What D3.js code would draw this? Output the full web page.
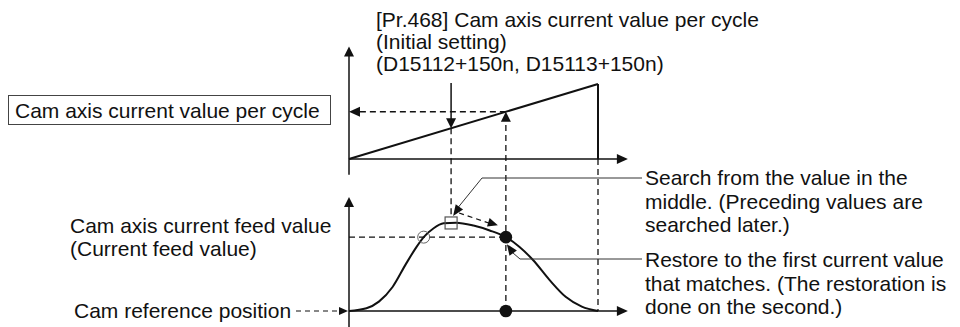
<!DOCTYPE html>
<html>
<head>
<meta charset="utf-8">
<script src="https://cdn.jsdelivr.net/npm/d3@7"></script>
<style>
  html, body { margin: 0; padding: 0; background: #fff; }
  svg { display: block; }
  text { font-family: "Liberation Sans", Arial, sans-serif; font-size: 21px; fill: #111; }
</style>
</head>
<body>
<svg id="chart" width="960" height="327"></svg>
<script>
// ---------------- data ----------------
// Upper graph: cam axis current value per cycle (sawtooth over one cycle, % of cycle)
const cycleX = [0, 100];
const cycleVals = [0, 100];
// Lower graph: cam axis current feed value (cam curve, % of stroke) vs cycle position
const feedX = [0, 7, 12, 17.5, 23, 27, 30, 34, 38, 43, 50, 56.5, 63, 68.5, 74, 80.5, 87, 93.5, 100];
const feedY = [0, 3, 10.5, 27, 53.5, 71.5, 83, 93, 98.5, 99.2, 96, 90.5, 83, 72, 57, 35, 16, 5, 0];
// Key positions along the cycle
const initialSettingX = [41];   // [Pr.468] initial setting (search start)
const firstMatchX = [30];       // preceding match (searched later)
const restoredX = [63];         // restored value (first match found)
// Texts
const topTitle = ["[Pr.468] Cam axis current value per cycle", "(Initial setting)", "(D15112+150n, D15113+150n)"];
const boxLabel = ["Cam axis current value per cycle"];
const feedLabel = ["Cam axis current feed value", "(Current feed value)"];
const refLabel = ["Cam reference position"];
const searchNote = ["Search from the value in the", "middle. (Preceding values are", "searched later.)"];
const restoreNote = ["Restore to the first current value", "that matches. (The restoration is", "done on the second.)"];

// ---------------- scales ----------------
const x = d3.scaleLinear().domain([0, 100]).range([349, 598]);
const yTop = d3.scaleLinear().domain([0, 100]).range([159, 84]);
const yBot = d3.scaleLinear().domain([0, 100]).range([311, 222]);

const svg = d3.select("#chart");
const g = svg.append("g");

function arrowHead(tipX, tipY, angleDeg, len = 10, half = 4.5) {
  const a = angleDeg * Math.PI / 180;
  const bx = tipX - len * Math.cos(a), by = tipY - len * Math.sin(a);
  const px = -Math.sin(a) * half, py = Math.cos(a) * half;
  g.append("path")
    .attr("d", `M${tipX},${tipY}L${bx + px},${by + py}L${bx - px},${by - py}Z`)
    .attr("fill", "#111");
}
function line(x1, y1, x2, y2, opts = {}) {
  return g.append("line")
    .attr("x1", x1).attr("y1", y1).attr("x2", x2).attr("y2", y2)
    .attr("stroke", opts.color || "#111")
    .attr("stroke-width", opts.w || 1.5)
    .attr("stroke-dasharray", opts.dash || null);
}
const DASH = "6,4";

const curveFn = (xv) => {
  const i = d3.bisectLeft(feedX, xv);
  if (i <= 0) return feedY[0];
  const t = (xv - feedX[i - 1]) / (feedX[i] - feedX[i - 1]);
  return feedY[i - 1] + t * (feedY[i] - feedY[i - 1]);
};
const rx = restoredX[0], ix = initialSettingX[0], fx = firstMatchX[0];
const restoreY = curveFn(rx);

// ---------------- dashed guide lines ----------------
line(x(100), yTop(0), x(100), yBot(0), { dash: DASH, w: 1.3 });
line(x(ix), yTop(ix), x(ix), yBot(curveFn(ix)) - 6, { dash: DASH, w: 1.3 });
line(x(rx), yBot(0), x(rx), yTop(rx) + 9, { dash: DASH, w: 1.3 });
arrowHead(x(rx), yTop(rx), -90, 10, 5);
line(x(rx), yTop(rx), x(0) + 10, yTop(rx), { dash: DASH, w: 1.3 });
arrowHead(x(0), yTop(rx), 180, 11, 5);
line(x(0), yBot(restoreY), x(rx), yBot(restoreY), { dash: DASH, w: 1.3 });
line(296, yBot(0), x(0) - 8, yBot(0), { dash: "5,4", w: 1.2 });
arrowHead(x(0) - 1, yBot(0), 0, 9, 4);

// ---------------- upper graph ----------------
line(x(0), yTop(-21), x(0), yTop(150) + 8, { w: 1.5 });
arrowHead(x(0), yTop(150), -90, 10, 5);
line(x(0), yTop(0), x(112) - 8, yTop(0), { w: 1.5 });
arrowHead(x(112), yTop(0), 0, 11, 5);
const sawLine = d3.line().x((d, i) => x(cycleX[i])).y(d => yTop(d));
g.append("path").datum(cycleVals).attr("d", sawLine)
  .attr("fill", "none").attr("stroke", "#111").attr("stroke-width", 2);
line(x(100), yTop(100), x(100), yTop(0), { w: 2 });
line(x(ix), 83, x(ix), yTop(ix) - 8, { w: 1.5 });
arrowHead(x(ix), yTop(ix), 90, 10, 5);

// ---------------- lower graph ----------------
line(x(0), 327, x(0), yBot(128) + 8, { w: 1.5 });
arrowHead(x(0), yBot(128), -90, 10, 5);
line(x(0), yBot(0), x(112) - 8, yBot(0), { w: 1.5 });
arrowHead(x(112), yBot(0), 0, 11, 5);
const camLine = d3.line().x((d, i) => x(feedX[i])).y(d => yBot(d)).curve(d3.curveMonotoneX);
g.append("path").datum(feedY).attr("d", camLine)
  .attr("fill", "none").attr("stroke", "#111").attr("stroke-width", 2);

// markers
g.append("circle").attr("cx", x(fx)).attr("cy", yBot(restoreY)).attr("r", 6)
  .attr("fill", "none").attr("stroke", "#666").attr("stroke-width", 1);
g.append("rect").attr("x", x(ix) - 6).attr("y", yBot(curveFn(ix)) - 6).attr("width", 12).attr("height", 12)
  .attr("fill", "none").attr("stroke", "#555").attr("stroke-width", 1.2);
g.append("circle").attr("cx", x(rx)).attr("cy", yBot(restoreY)).attr("r", 6.3).attr("fill", "#111");
g.append("circle").attr("cx", x(rx)).attr("cy", yBot(0)).attr("r", 6.3).attr("fill", "#111");

// search direction dashed arrow
line(x(ix) + 8, yBot(curveFn(ix)) - 10, x(rx) - 14, yBot(curveFn(rx)) - 13, { dash: "5,4", w: 1.2 });
arrowHead(x(rx) - 8, yBot(curveFn(rx)) - 12, 17, 10, 4.5);

// ---------------- leaders ----------------
line(642, 178, 482, 178, { w: 1, color: "#333" });
line(482, 178, x(ix) + 5, yBot(curveFn(ix)) - 13, { w: 1, color: "#333" });
arrowHead(x(ix) + 2, yBot(curveFn(ix)) - 7, 125, 11, 4.5);
line(642, 259, 520, 259, { w: 1, color: "#333" });
line(520, 259, x(rx) + 5, yBot(restoreY) + 14, { w: 1, color: "#333" });
arrowHead(x(rx) + 1, yBot(restoreY) + 7, 235, 11, 4.5);

// ---------------- texts ----------------
const topY = [27, 49, 71];
topTitle.forEach((t, i) => g.append("text").attr("x", 376).attr("y", topY[i]).text(t));

g.append("rect").attr("x", 8.5).attr("y", 95.5).attr("width", 322).attr("height", 29)
  .attr("fill", "none").attr("stroke", "#444").attr("stroke-width", 1);
g.append("text").attr("x", 15).attr("y", 118).text(boxLabel[0]);

const feedYs = [233, 256];
feedLabel.forEach((t, i) => g.append("text").attr("x", 70).attr("y", feedYs[i]).text(t));
g.append("text").attr("x", 74).attr("y", 318).text(refLabel[0]);

const sY = [185, 208.5, 232];
searchNote.forEach((t, i) => g.append("text").attr("x", 645).attr("y", sY[i]).text(t));
const rY = [267, 290.5, 314];
restoreNote.forEach((t, i) => g.append("text").attr("x", 645).attr("y", rY[i]).text(t));
</script>
</body>
</html>
